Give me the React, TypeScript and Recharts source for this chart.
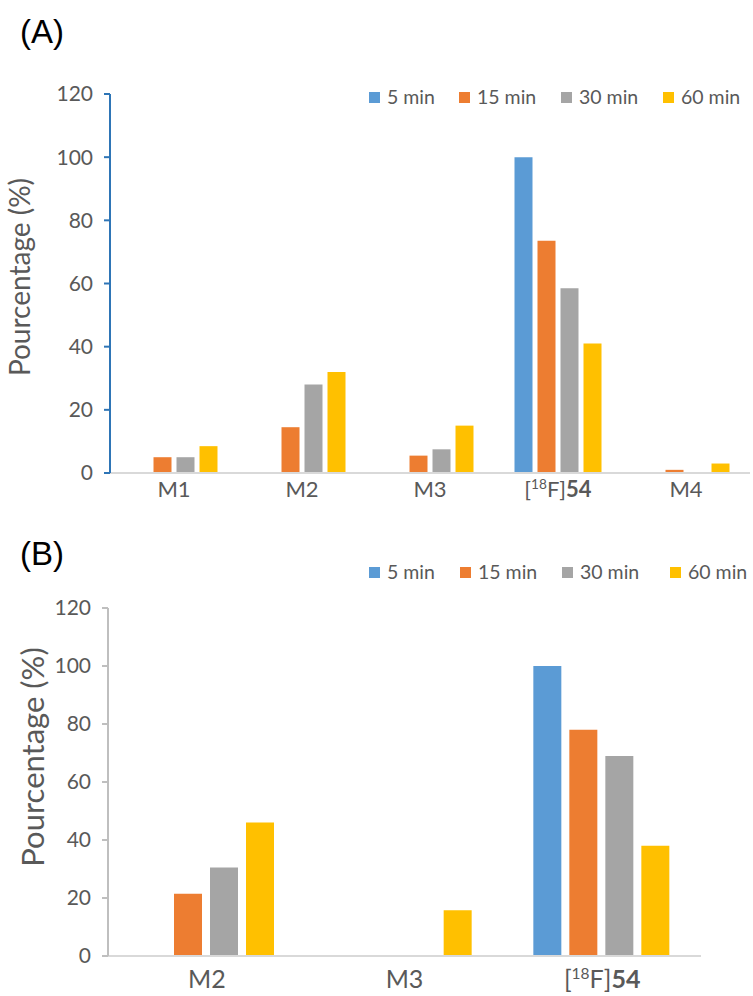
import React from 'react';
import { BarChart, Bar, XAxis, YAxis, Legend } from 'recharts';

// Panel (A)
const categoriesA = ['M1', 'M2', 'M3', '[18F]54', 'M4'];
const a5min = [0, 0, 0, 100, 0];
const a15min = [5, 14.5, 5.5, 73.5, 1];
const a30min = [5, 28, 7.5, 58.5, 0];
const a60min = [8.5, 32, 15, 41, 3];

// Panel (B)
const categoriesB = ['M2', 'M3', '[18F]54'];
const b5min = [0, 0, 100];
const b15min = [21.5, 0, 78];
const b30min = [30.5, 0, 69];
const b60min = [46, 15.8, 38];

const yTicks = [0, 20, 40, 60, 80, 100, 120];
const seriesNames = ['5 min', '15 min', '30 min', '60 min'];
const seriesColors = ['#5B9BD5', '#ED7D31', '#A5A5A5', '#FFC000'];

const FONT = 'Lato, "Noto Sans", sans-serif';
const TEXT = '#595959';

const buildRows = (cats: string[], s: number[][]) =>
  cats.map((c, i) => ({ name: c, s0: s[0][i], s1: s[1][i], s2: s[2][i], s3: s[3][i] }));

const dataA = buildRows(categoriesA, [a5min, a15min, a30min, a60min]);
const dataB = buildRows(categoriesB, [b5min, b15min, b30min, b60min]);

const CategoryTick = ({ x, y, payload, fontSize, dy }: any) => {
  const value: string = payload.value;
  const m = value.match(/^\[(\d+)(\w+)\](\w+)$/);
  if (m) {
    return (
      <text x={x} y={y + dy} textAnchor="middle" fill={TEXT} fontSize={fontSize} fontFamily={FONT}>
        <tspan>[</tspan>
        <tspan fontSize={fontSize * 0.62} dy={-fontSize * 0.36}>{m[1]}</tspan>
        <tspan dy={fontSize * 0.36}>{m[2]}]</tspan>
        <tspan fontWeight="bold">{m[3]}</tspan>
      </text>
    );
  }
  return (
    <text x={x} y={y + dy} textAnchor="middle" fill={TEXT} fontSize={fontSize} fontFamily={FONT}>
      {value}
    </text>
  );
};

const AxisTitle = ({ viewBox, cx, cy, fontSize }: any) => {
  const px = viewBox.x + cx;
  const py = viewBox.y + cy;
  return (
    <text
      x={px}
      y={py}
      transform={`rotate(-90, ${px}, ${py})`}
      textAnchor="middle"
      fill={TEXT}
      fontSize={fontSize}
      fontFamily={FONT}
    >
      Pourcentage (%)
    </text>
  );
};

// each legend entry gets a fixed slot width so the swatches line up with the reference
const LegendBox = ({ slots }: { slots: number[] }) => (
  <div style={{ display: 'flex', alignItems: 'center', fontFamily: FONT, fontSize: 19.5, color: TEXT, lineHeight: '26px', whiteSpace: 'nowrap' }}>
    {seriesNames.map((n, i) => (
      <div key={n} style={{ display: 'flex', alignItems: 'center', flexShrink: 0, width: slots[i] }}>
        <span style={{ width: 11, height: 11, background: seriesColors[i], marginRight: 7, display: 'inline-block', flexShrink: 0 }} />
        <span>{n}</span>
      </div>
    ))}
  </div>
);

const Panel = ({ data, width, height, margin, yWidth, axisColor, catGap, barGap, tickFont, tickDy, titleFont, titleCx, titleCy, legendTop, legendSlots }: any) => (
  <BarChart width={width} height={height} data={data} margin={margin} barCategoryGap={catGap} barGap={barGap}>
    <XAxis
      dataKey="name"
      height={40}
      axisLine={{ stroke: '#D9D9D9', strokeWidth: 2 }}
      tickLine={false}
      tickSize={0}
      tickMargin={0}
      interval={0}
      tick={<CategoryTick fontSize={tickFont} dy={tickDy} />}
    />
    <YAxis
      width={yWidth}
      domain={[0, 120]}
      ticks={yTicks}
      interval={0}
      axisLine={{ stroke: axisColor, strokeWidth: 2 }}
      tickLine={{ stroke: axisColor, strokeWidth: 2 }}
      tickSize={6}
      tickMargin={11}
      tick={{ fill: TEXT, fontSize: 21, fontFamily: FONT }}
      label={<AxisTitle cx={titleCx} cy={titleCy} fontSize={titleFont} />}
    />
    <Legend
      verticalAlign="middle"
      align="center"
      layout="horizontal"
      wrapperStyle={{ left: 369, top: legendTop, width: 380 }}
      content={() => <LegendBox slots={legendSlots} />}
    />
    {seriesNames.map((n, i) => (
      <Bar key={n} dataKey={`s${i}`} name={n} fill={seriesColors[i]} isAnimationActive={false} />
    ))}
  </BarChart>
);

export default function App() {
  return (
    <div style={{ position: 'absolute', left: 0, top: 0, width: 753, height: 996, background: '#fff' }}>
      <div style={{ position: 'absolute', left: 20, top: 15, fontFamily: '"Liberation Sans", Arial, sans-serif', fontSize: 33, lineHeight: '33px', color: '#000' }}>(A)</div>
      <div style={{ position: 'absolute', left: 0, top: 0 }}>
        <Panel
          data={dataA}
          width={753}
          height={520}
          margin={{ top: 94, right: 3, bottom: 7, left: 0 }}
          yWidth={110}
          axisColor="#2E75B6"
          catGap={20.5}
          barGap={5}
          tickFont={22}
          tickDy={24}
          titleFont={28}
          titleCx={30}
          titleCy={183}
          legendTop={84}
          legendSlots={[90, 102, 102, 80]}
        />
      </div>
      <div style={{ position: 'absolute', left: 20, top: 537, fontFamily: '"Liberation Sans", Arial, sans-serif', fontSize: 33, lineHeight: '33px', color: '#000' }}>(B)</div>
      <div style={{ position: 'absolute', left: 0, top: 520 }}>
        <Panel
          data={dataB}
          width={753}
          height={476}
          margin={{ top: 88, right: 52, bottom: 0, left: 0 }}
          yWidth={108}
          axisColor="#BFBFBF"
          catGap={30}
          barGap={8}
          tickFont={25}
          tickDy={32}
          titleFont={31}
          titleCx={44}
          titleCy={149}
          legendTop={39}
          legendSlots={[91, 102, 108, 80]}
        />
      </div>
    </div>
  );
}
